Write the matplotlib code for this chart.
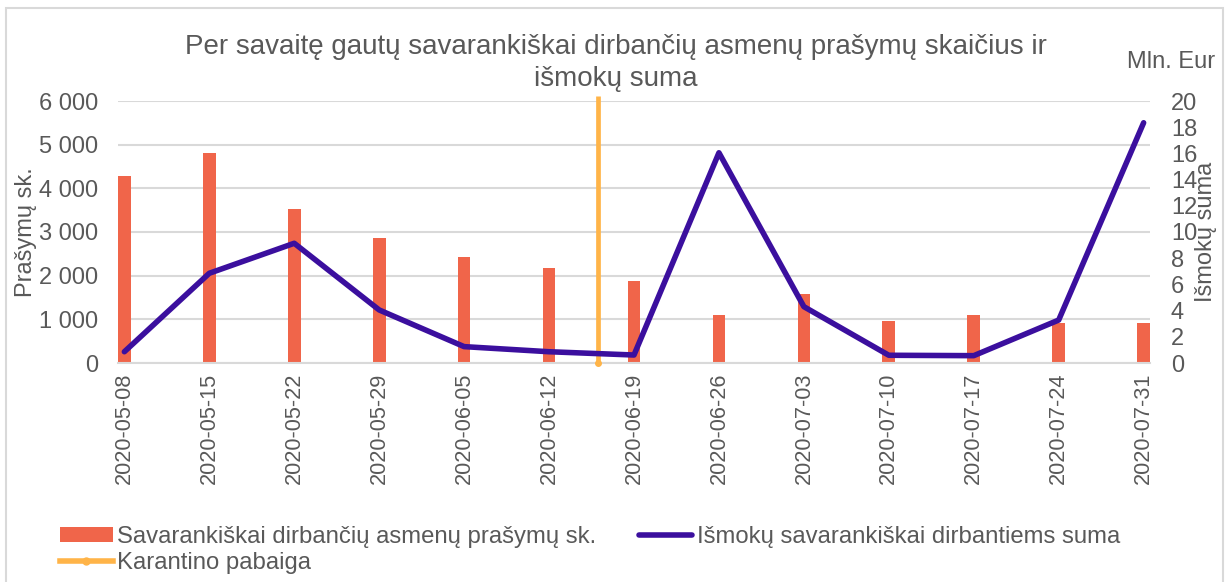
import matplotlib
matplotlib.use("Agg")
import matplotlib.pyplot as plt
from matplotlib.lines import Line2D
from matplotlib.patches import Patch, Rectangle

plt.rcParams['font.family'] = ['Liberation Sans', 'DejaVu Sans']

# ---- data ----
dates = ["2020-05-08", "2020-05-15", "2020-05-22", "2020-05-29", "2020-06-05",
         "2020-06-12", "2020-06-19", "2020-06-26", "2020-07-03", "2020-07-10",
         "2020-07-17", "2020-07-24", "2020-07-31"]
prasymai = [4290, 4800, 3530, 2860, 2420, 2180, 1870, 1100, 1580, 970, 1090, 910, 920]
ismoku_suma = [0.86, 6.85, 9.14, 4.05, 1.25, 0.86, 0.61, 16.05, 4.3, 0.59, 0.56, 3.28, 18.34]
karantino_x = [5.58, 5.58]
karantino_y = [0, 6110]

title = "Per savaitę gautų savarankiškai dirbančių asmenų prašymų skaičius ir\nišmokų suma"
left_ticks = [0, 1000, 2000, 3000, 4000, 5000, 6000]
left_ticklabels = ["0", "1 000", "2 000", "3 000", "4 000", "5 000", "6 000"]
right_ticks = [0, 2, 4, 6, 8, 10, 12, 14, 16, 18, 20]

BAR_C = "#F0654A"
LINE_C = "#3B0F9E"
ORANGE = "#FFB448"
TXT = "#595959"
GRID = "#D9D9D9"

W, H = 1228, 582
fig = plt.figure(figsize=(W / 100, H / 100), dpi=100)

# chart border
fig.patches.append(Rectangle((6 / W, -0.01), (1223 - 6) / W, 1 - 8 / H + 0.01,
                             transform=fig.transFigure, fill=False,
                             edgecolor=GRID, linewidth=1.5))

ax_l, ax_r, ax_t, ax_b = 118, 1150, 101, 363
ax = fig.add_axes([ax_l / W, 1 - ax_b / H, (ax_r - ax_l) / W, (ax_b - ax_t) / H])
ax2 = ax.twinx()

x = list(range(len(dates)))
bw = 0.15
ax.bar(x, prasymai, width=bw, color=BAR_C, zorder=2)
ax.set_ylim(0, 6000)
ax.set_xlim(-bw / 2, len(dates) - 1 + bw / 2)
ax.set_yticks(left_ticks)
ax.set_yticklabels(left_ticklabels)
ax.set_xticks(x)
ax.set_xticklabels(dates, rotation=90)
ax.grid(axis='y', color=GRID, linewidth=1.5, zorder=0)
ax.set_axisbelow(True)
for s in ["top", "right", "left"]:
    ax.spines[s].set_visible(False)
ax.spines["bottom"].set_color(GRID)
ax.spines["bottom"].set_linewidth(1.5)
ax.tick_params(axis='y', length=0, pad=14, labelsize=17, labelcolor=TXT)
ax.tick_params(axis='x', length=0, pad=7, labelsize=15.7, labelcolor=TXT)

# quarantine end line
ax.plot(karantino_x, karantino_y, color=ORANGE, linewidth=3.4, clip_on=False,
        solid_capstyle='butt', zorder=4, marker='o', markersize=4, markevery=[0])

ax2.plot(x, ismoku_suma, color=LINE_C, linewidth=4, solid_capstyle='round',
         solid_joinstyle='round', zorder=5)
ax2.set_ylim(0, 20)
ax2.set_yticks(right_ticks)
for s in ["top", "right", "left", "bottom"]:
    ax2.spines[s].set_visible(False)
ax2.tick_params(axis='y', length=0, pad=15, labelsize=17, labelcolor=TXT)
ax2.set_zorder(ax.get_zorder() + 1)
ax2.patch.set_visible(False)

fig.text(26 / W, 1 - 232 / H, "Prašymų sk.", rotation=90, ha='center', va='center',
         fontsize=17, color=TXT)
fig.text(1206 / W, 1 - 232 / H, "Išmokų suma", rotation=90, ha='center', va='center',
         fontsize=17, color=TXT)
fig.text(1171 / W, 1 - 62 / H, "Mln. Eur", ha='center', va='center',
         fontsize=17, color=TXT)
fig.text(616 / W, 1 - 63 / H, title, ha='center', va='center', fontsize=20,
         color=TXT, linespacing=1.27)

handles = [Patch(facecolor=BAR_C, edgecolor='none'),
           Line2D([], [], color=ORANGE, linewidth=4, marker='o', markersize=5),
           Line2D([], [], color=LINE_C, linewidth=4, solid_capstyle='round')]
labels = ["Savarankiškai dirbančių asmenų prašymų sk.", "Karantino pabaiga",
          "Išmokų savarankiškai dirbantiems suma"]
leg = fig.legend(handles, labels, ncol=2, loc='upper left',
                 bbox_to_anchor=(60 / W, 1 - 526 / H), frameon=False,
                 fontsize=17.2, handlelength=2.2, handleheight=0.6, handletextpad=0.2,
                 columnspacing=1.8, labelspacing=0.15, borderaxespad=0, borderpad=0)
for t in leg.get_texts():
    t.set_color(TXT)

fig.savefig("out.png", dpi=100, facecolor='white')
